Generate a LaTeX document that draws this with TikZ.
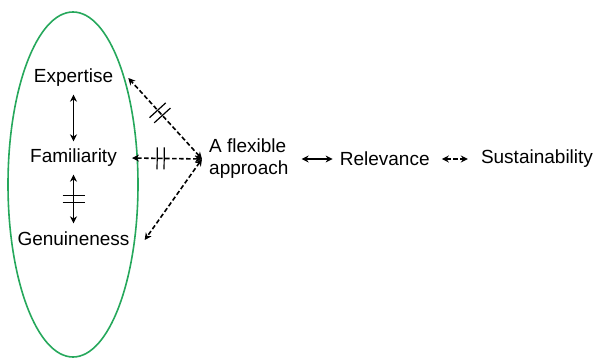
\documentclass[tikz,border=0pt]{standalone}
\usepackage{fontspec}
\setmainfont{Liberation Sans}
\usetikzlibrary{arrows.meta,decorations.markings,positioning}

\definecolor{ringgreen}{RGB}{38,168,92}

\tikzset{
  term/.style={font=\fontsize{19}{22}\selectfont, inner xsep=15pt, inner ysep=7.5pt,
    text height=14pt, text depth=4pt},
  word/.style={font=\fontsize{19}{22}\selectfont, inner sep=7pt},
  link/.style={line width=1.8pt, {Stealth[length=7pt,width=7pt]}-{Stealth[length=7pt,width=7pt]}},
  loose/.style={link, line width=1.6pt, dash pattern=on 4.5pt off 2.5pt},
  twocuts/.style={postaction={decorate}, decoration={markings, mark=at position #1 with
    {\draw[-, solid, line width=1.2pt] (-3.5pt,-11pt) -- (-3.5pt,11pt) (3.5pt,-11pt) -- (3.5pt,11pt);}}}
}

\begin{document}
\begin{tikzpicture}[x=1pt, y=-1pt]
\useasboundingbox (0,0) rectangle (598,361);

% the three qualities inside the ring
\draw[ringgreen, line width=1.6pt] (73,184.5) ellipse [x radius=65, y radius=172.5];
\node[term] (exp) at (73.5,78) {Expertise};
\node[term] (fam) at (73.5,158) {Familiarity};
\node[term] (gen) at (73.5,240) {Genuineness};

\node[word, align=left, anchor=west] (flex) at (202,159) {A flexible\\approach};
\node[word, right=37pt of flex] (rel) {Relevance};
\node[word, right=37pt of rel] (sus) {Sustainability};

\draw[link] (exp) -- (fam);
\draw[link, twocuts=0.5] (fam) -- (gen);

\draw[loose, twocuts=0.57] (flex.west) -- (exp.east);
\draw[loose, twocuts=0.59] (flex.west) -- (fam.east);
\draw[loose] (flex.west) -- (gen.east);

\draw[link, shorten <=6pt] (flex) -- (rel);
\draw[loose, shorten <=5pt, shorten >=6pt] (rel) -- (sus);
\end{tikzpicture}
\end{document}
